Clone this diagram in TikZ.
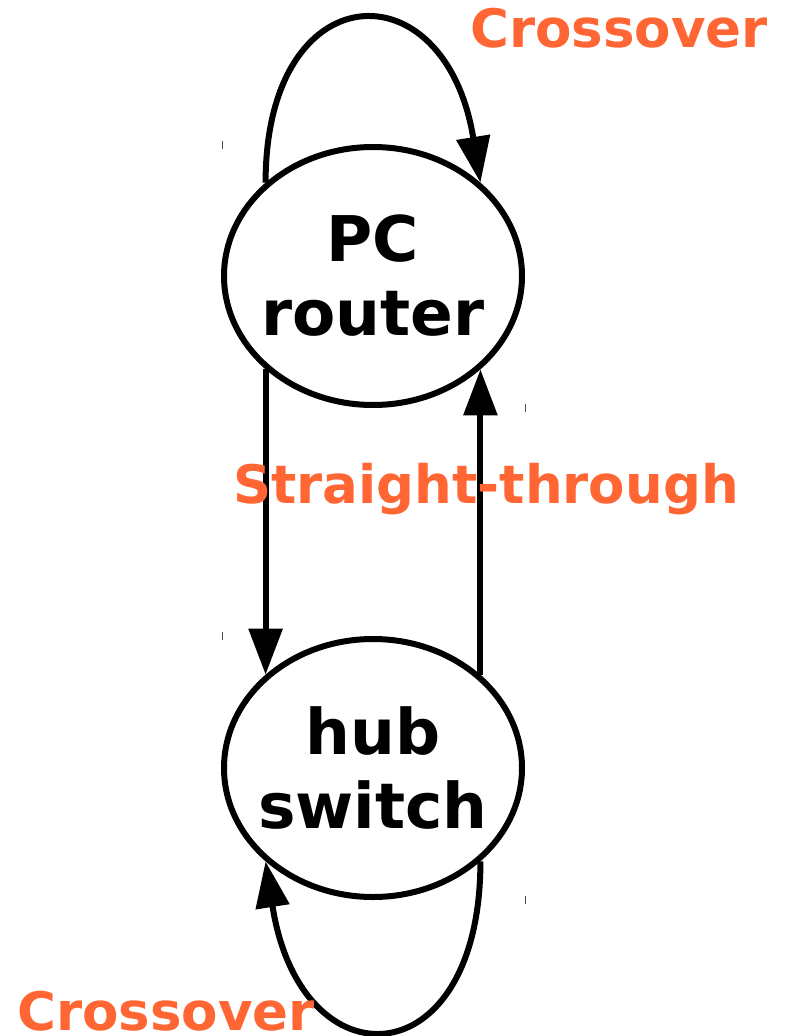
\documentclass[tikz,border=0pt]{standalone}
\usepackage{fontspec}
\setmainfont{DejaVu Sans}
\usetikzlibrary{shapes.geometric,arrows.meta,calc}
\definecolor{labelorange}{HTML}{FF6633}
\begin{document}
\begin{tikzpicture}[x=1pt,y=-1pt,
  state/.style={draw,ellipse,line width=6pt,minimum width=298pt,minimum height=258pt,inner sep=0pt},
  statetext/.style={align=center,inner sep=0pt,font=\fontsize{63}{74}\selectfont\bfseries},
  edge/.style={line width=6pt,-{Triangle[length=46pt,width=33pt]}},
  elabel/.style={text=labelorange,font=\fontsize{53}{60}\selectfont\bfseries,inner sep=0pt},
  tick/.style={line width=1pt,black!70}]
\useasboundingbox (0,0) rectangle (786,1036);

\node[state] (pc)  at (373,276) {};
\node[statetext] (pct) at (pc.center) {PC\\router};
\node[state] (hub) at (373,768) {};
\node[statetext] (hubt) at (hub.center) {hub\\switch};

% self loops
\draw[edge] (pc.139) .. controls ($(pc.139)+(0,-210)$) and ($(pc.41)+(-35,-218)$) .. (pc.41);
\draw[edge] (hub.-41) .. controls ($(hub.-41)+(0,218)$) and ($(hub.-139)+(35,226)$) .. (hub.-139);

% links between the two devices
\draw[edge] (pc.-139) -- (hub.139);
\draw[edge] (hub.41) -- (pc.-41);

% cable labels
\node[elabel] (lt) at (619,28) {Crossover};
\node[elabel] (lm) at (486,489) {Straight-through};
\node[elabel] (lb) at (166,1011) {Crossover};

% small marks beside the ellipses
\draw[tick] (222,141) -- (222,149);
\draw[tick] (525,404) -- (525,412);
\draw[tick] (222,632) -- (222,640);
\draw[tick] (525,896) -- (525,904);
\end{tikzpicture}
\end{document}
